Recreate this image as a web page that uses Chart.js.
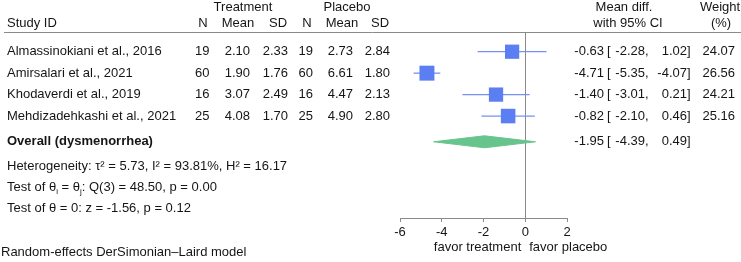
<!DOCTYPE html>
<html>
<head>
<meta charset="utf-8">
<script src="https://cdn.jsdelivr.net/npm/chart.js@4"></script>
<style>
  html, body { margin: 0; padding: 0; background: #fff; }
</style>
</head>
<body>
<canvas id="forest" width="741" height="262"></canvas>
<script>
// study table
const studies = ['Almassinokiani et al., 2016', 'Amirsalari et al., 2021', 'Khodaverdi et al., 2019', 'Mehdizadehkashi et al., 2021']
const treatN = [19, 60, 16, 25]
const treatMean = [2.10, 1.90, 3.07, 4.08]
const treatSD = [2.33, 1.76, 2.49, 1.70]
const placeboN = [19, 60, 16, 25]
const placeboMean = [2.73, 6.61, 4.47, 4.90]
const placeboSD = [2.84, 1.80, 2.13, 2.80]

// effect sizes
const meanDiff = [-0.63, -4.71, -1.40, -0.82]
const ciLow = [-2.28, -5.35, -3.01, -2.10]
const ciHigh = [1.02, -4.07, 0.21, 0.46]
const weights = [24.07, 26.56, 24.21, 25.16]

const overallLabel = 'Overall (dysmenorrhea)'
const overallEst = -1.95
const overallLow = -4.39
const overallHigh = 0.49

// heterogeneity / tests
const tau2 = 5.73, i2 = 93.81, h2 = 16.17
const qDf = 3, qStat = 48.50, qP = 0.00
const zStat = -1.56, zP = 0.12
const modelNote = 'Random-effects DerSimonian\u2013Laird model'

const xTicks = [-6, -4, -2, 0, 2]
const favorLeft = 'favor treatment'
const favorRight = 'favor placebo'

const FAMILY = '"Liberation Sans", Arial, Helvetica, sans-serif'
const FONT = '13px ' + FAMILY
const BOLD = 'bold 13px ' + FAMILY
const SMALL = '8px ' + FAMILY
const TEXT = '#151515'
const GRAY = '#8a8a8a'

const overallRow = 5.2

// text segments, sub: true for subscripts
function drawRich(ctx, parts, x, y) {
  for (const p of parts) {
    ctx.font = p.sub ? SMALL : FONT
    ctx.fillText(p.t, x, p.sub ? y + 3 : y)
    x += ctx.measureText(p.t).width
  }
  ctx.font = FONT
}

function drawCI(ctx, est, lo, hi, yy) {
  const put = (txt, xx, align) => { ctx.textAlign = align; ctx.fillText(txt, xx, yy) }
  put(est.toFixed(2), 604, 'right')
  put('[', 607, 'left')
  put(lo.toFixed(2), 645, 'right')
  put(',', 645, 'left')
  put(hi.toFixed(2), 687, 'right')
  put(']', 687, 'left')
}

const tablePlugin = {
  id: 'forestTable',
  afterDraw(chart) {
    const ctx = chart.ctx
    const ys = chart.scales.y
    const xs = chart.scales.x
    ctx.save()
    ctx.fillStyle = TEXT
    ctx.font = FONT

    // header rule
    ctx.strokeStyle = GRAY
    ctx.lineWidth = 1
    ctx.beginPath()
    ctx.moveTo(4, 32.5)
    ctx.lineTo(741, 32.5)
    ctx.stroke()

    // headers
    ctx.textBaseline = 'alphabetic'
    ctx.textAlign = 'center'
    ctx.fillText('Treatment', 243, 10.5)
    ctx.fillText('Placebo', 347, 10.5)
    ctx.fillText('Mean diff.', 624, 10.5)
    ctx.fillText('Weight', 720, 10.5)
    const head2 = [['N', 203], ['Mean', 238], ['SD', 278], ['N', 307], ['Mean', 342], ['SD', 380], ['with 95% CI', 628], ['(%)', 721]]
    head2.forEach(([t, cx]) => ctx.fillText(t, cx, 27))
    ctx.textAlign = 'left'
    ctx.fillText('Study ID', 7, 27)

    // study rows
    ctx.textBaseline = 'middle'
    studies.forEach((name, i) => {
      const yy = ys.getPixelForValue(i + 1)
      ctx.textAlign = 'left'
      ctx.fillText(name, 7, yy)
      ctx.textAlign = 'right'
      ctx.fillText(String(treatN[i]), 209.5, yy)
      ctx.fillText(treatMean[i].toFixed(2), 250, yy)
      ctx.fillText(treatSD[i].toFixed(2), 288, yy)
      ctx.fillText(String(placeboN[i]), 313, yy)
      ctx.fillText(placeboMean[i].toFixed(2), 353, yy)
      ctx.fillText(placeboSD[i].toFixed(2), 390, yy)
      drawCI(ctx, meanDiff[i], ciLow[i], ciHigh[i], yy)
      ctx.textAlign = 'right'
      ctx.fillText(weights[i].toFixed(2), 735, yy)
    })

    // overall row
    const oy = ys.getPixelForValue(overallRow)
    ctx.font = BOLD
    ctx.textAlign = 'left'
    ctx.fillText(overallLabel, 7, oy)
    ctx.font = FONT
    drawCI(ctx, overallEst, overallLow, overallHigh, oy)

    // heterogeneity notes
    ctx.textAlign = 'left'
    ctx.textBaseline = 'alphabetic'
    ctx.fillText('Heterogeneity: \u03c4\u00b2 = ' + tau2.toFixed(2) + ', I\u00b2 = ' + i2.toFixed(2) + '%, H\u00b2 = ' + h2.toFixed(2), 7, 169.5)
    drawRich(ctx, [
      { t: 'Test of \u03b8' }, { t: 'i', sub: true }, { t: ' = \u03b8' }, { t: 'j', sub: true },
      { t: ': Q(' + qDf + ') = ' + qStat.toFixed(2) + ', p = ' + qP.toFixed(2) }
    ], 7, 190.5)
    ctx.fillText('Test of \u03b8 = 0: z = ' + zStat.toFixed(2) + ', p = ' + zP.toFixed(2), 7, 211.5)
    ctx.fillText(modelNote, 1, 255.5)

    // favor labels around the null line
    const zx = xs.getPixelForValue(0)
    ctx.textAlign = 'right'
    ctx.fillText(favorLeft, zx - 4, 251)
    ctx.textAlign = 'left'
    ctx.fillText(favorRight, zx + 4, 251)
    ctx.restore()
  }
}

const squareData = meanDiff.map((v, i) => ({ x: v, y: i + 1 }))
const squareRadius = weights.map(w => 2.9 * Math.sqrt(w) / Math.SQRT2)

const ciSets = meanDiff.map((v, i) => ({
  data: [{ x: ciLow[i], y: i + 1 }, { x: ciHigh[i], y: i + 1 }],
  showLine: true,
  borderColor: '#7392f4',
  borderWidth: 1.3,
  pointRadius: 0
}))

const halfH = 0.28
const diamond = {
  data: [
    { x: overallLow, y: overallRow },
    { x: overallEst, y: overallRow - halfH },
    { x: overallHigh, y: overallRow },
    { x: overallEst, y: overallRow + halfH },
    { x: overallLow, y: overallRow }
  ],
  showLine: true,
  fill: 'shape',
  backgroundColor: '#68c48d',
  borderColor: '#68c48d',
  borderWidth: 1,
  pointRadius: 0,
  tension: 0
}

new Chart(document.getElementById('forest'), {
  type: 'scatter',
  data: {
    datasets: [
      {
        data: squareData,
        pointStyle: 'rect',
        pointRadius: squareRadius,
        backgroundColor: '#5b7ef2',
        borderWidth: 0,
        pointBorderWidth: 0
      },
      ...ciSets,
      diamond
    ]
  },
  options: {
    responsive: false,
    animation: false,
    events: [],
    layout: { padding: { left: 400, right: 174, top: 33, bottom: 0 } },
    plugins: {
      legend: { display: false },
      tooltip: { enabled: false }
    },
    scales: {
      x: {
        type: 'linear',
        min: -6,
        max: 2,
        afterBuildTicks: scale => { scale.ticks = xTicks.map(v => ({ value: v })) },
        afterFit: scale => { scale.height = 44 },
        grid: {
          color: c => (c.tick && c.tick.value === 0) ? GRAY : 'rgba(0,0,0,0)',
          tickColor: GRAY,
          tickLength: 4,
          lineWidth: 1
        },
        border: { display: true, color: GRAY, width: 1 },
        ticks: {
          color: TEXT,
          font: { family: FAMILY, size: 13 },
          padding: 3,
          maxRotation: 0,
          autoSkip: false
        }
      },
      y: {
        type: 'linear',
        reverse: true,
        min: 0.128,
        max: 8.753,
        display: false
      }
    }
  },
  plugins: [tablePlugin]
})
</script>
</body>
</html>
